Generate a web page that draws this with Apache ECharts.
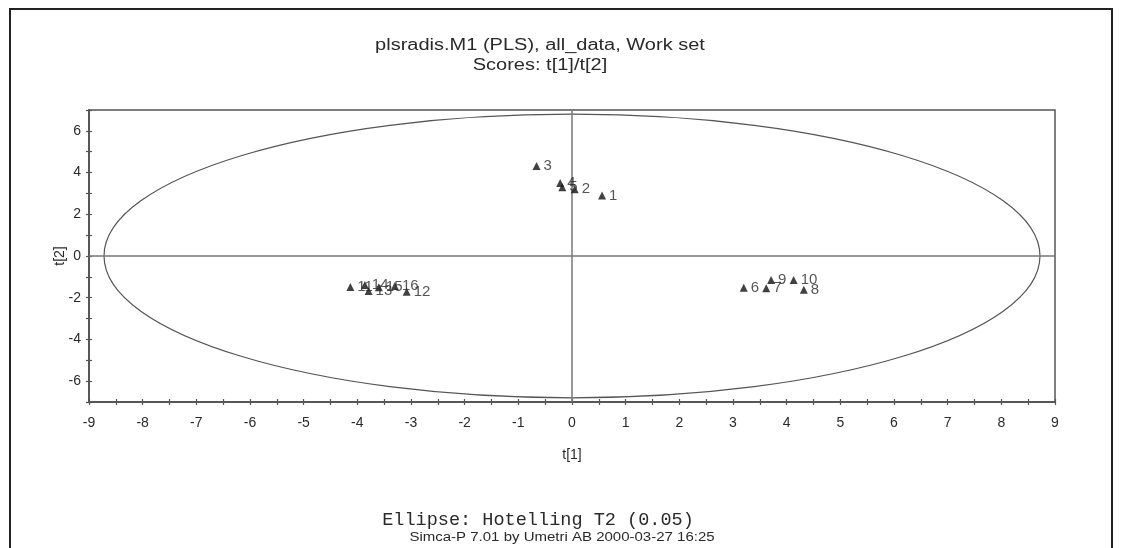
<!DOCTYPE html>
<html><head><meta charset="utf-8">
<script src="https://cdn.jsdelivr.net/npm/echarts@6/dist/echarts.min.js"></script>
<style>html,body{margin:0;padding:0;background:#fff}#c{width:1122px;height:548px}</style>
</head><body><div id="c"></div>
<script>
// ---- data ----
const pointLabels = ['1','2','3','4','5','6','7','8','9','10','11','12','13','14','15','16'];
const t1Values = [0.56, 0.05, -0.66, -0.22, -0.18, 3.20, 3.62, 4.32, 3.71, 4.13, -4.13, -3.08, -3.79, -3.86, -3.60, -3.30];
const t2Values = [2.90, 3.20, 4.31, 3.50, 3.30, -1.52, -1.55, -1.62, -1.15, -1.15, -1.49, -1.72, -1.68, -1.39, -1.50, -1.44];
const xTickLabels = ['-9','-8','-7','-6','-5','-4','-3','-2','-1','0','1','2','3','4','5','6','7','8','9'];
const yTickLabels = ['-6','-4','-2','0','2','4','6'];
const ellipseSemiT1 = 8.72;   // Hotelling T2 (0.05) semi-axis along t[1]
const ellipseSemiT2 = 6.80;   // Hotelling T2 (0.05) semi-axis along t[2]
const titleLines = ['plsradis.M1 (PLS), all_data, Work set', 'Scores: t[1]/t[2]'];
const footerLines = ['Ellipse: Hotelling T2 (0.05)', 'Simca-P 7.01 by Umetri AB 2000-03-27 16:25'];

const chart = echarts.init(document.getElementById('c'), null, {renderer: 'canvas'});
const txt = '#2a2a2a';
const axisCol = '#555';
const sans = 'Liberation Sans, Arial, sans-serif';

const pts = t1Values.map((v, i) => ({value: [v, t2Values[i]], name: pointLabels[i]}));

function baseX(extra) {
  return Object.assign({
    type: 'value', min: -9, max: 9, interval: 0.5, gridIndex: 0,
    splitLine: {show: false},
    axisLine: {show: true, onZero: false, lineStyle: {color: axisCol, width: 1.5}},
    axisTick: {show: true, length: 3, lineStyle: {color: axisCol, width: 1.2}},
  }, extra);
}
function baseY(extra) {
  return Object.assign({
    type: 'value', min: -7, max: 7, interval: 1, gridIndex: 0,
    splitLine: {show: false},
    axisLine: {show: true, onZero: false, lineStyle: {color: axisCol, width: 1.5}},
    axisTick: {show: true, length: 3, lineStyle: {color: axisCol, width: 1.2}},
  }, extra);
}

const option = {
  animation: false,
  backgroundColor: '#fff',
  grid: {left: 89, right: 67, top: 110, bottom: 146, show: true, borderColor: axisCol, borderWidth: 1.5, backgroundColor: 'transparent'},
  xAxis: [
    baseX({
      position: 'bottom',
      name: 't[1]', nameLocation: 'middle', nameGap: 46, nameMoveOverlap: false,
      nameTextStyle: {fontFamily: sans, fontSize: 14, color: txt},
      axisLabel: {
        fontFamily: sans, fontSize: 14, color: txt, margin: 14,
        formatter: v => Number.isInteger(v) ? xTickLabels[v + 9] : ''
      }
    }),
    baseX({position: 'bottom', axisLabel: {show: false}, axisTick: {show: true, inside: true, length: 3, lineStyle: {color: axisCol, width: 1.2}}})
  ],
  yAxis: [
    baseY({
      position: 'left',
      name: 't[2]', nameLocation: 'middle', nameGap: 22, nameRotate: 90, nameMoveOverlap: false,
      nameTextStyle: {fontFamily: sans, fontSize: 14, color: txt},
      axisLabel: {
        fontFamily: sans, fontSize: 14, color: txt, margin: 8,
        formatter: v => (v % 2 === 0 && yTickLabels.indexOf(String(v)) >= 0) ? String(v) : ''
      }
    }),
    baseY({position: 'left', axisLabel: {show: false}, axisTick: {show: true, inside: true, length: 3, lineStyle: {color: axisCol, width: 1.2}}})
  ],
  series: [{
    type: 'scatter',
    xAxisIndex: 0, yAxisIndex: 0,
    symbol: 'triangle', symbolSize: 8,
    itemStyle: {color: '#111'},
    label: {show: true, position: 'right', distance: 3, formatter: p => p.name, fontFamily: sans, fontSize: 15, color: txt},
    data: pts,
    z: 5,
    markLine: {
      silent: true, symbol: 'none', label: {show: false},
      lineStyle: {color: '#777', width: 1.5, type: 'solid'},
      data: [{xAxis: 0}, {yAxis: 0}]
    }
  }],
  graphic: [
    {id: 'frame', type: 'rect', shape: {x: 10, y: 9, width: 1102, height: 570}, style: {fill: 'none', stroke: '#222', lineWidth: 2}, z: 1},
    {id: 'title1', type: 'text', x: 540, y: 46, scaleX: 1.25, style: {text: titleLines[0], fontFamily: sans, fontSize: 16, fill: txt, textAlign: 'center', textVerticalAlign: 'middle'}},
    {id: 'title2', type: 'text', x: 540, y: 66, scaleX: 1.25, style: {text: titleLines[1], fontFamily: sans, fontSize: 16, fill: txt, textAlign: 'center', textVerticalAlign: 'middle'}},
    {id: 'foot1', type: 'text', x: 538, y: 520, scaleX: 1.03, style: {text: footerLines[0], fontFamily: 'Liberation Mono, Courier New, monospace', fontSize: 18, fill: txt, textAlign: 'center', textVerticalAlign: 'middle'}},
    {id: 'foot2', type: 'text', x: 562, y: 538, scaleX: 1.25, style: {text: footerLines[1], fontFamily: sans, fontSize: 12, fill: txt, textAlign: 'center', textVerticalAlign: 'middle'}}
  ]
};
chart.setOption(option);

const c0 = chart.convertToPixel({xAxisIndex: 0, yAxisIndex: 0}, [0, 0]);
const c1 = chart.convertToPixel({xAxisIndex: 0, yAxisIndex: 0}, [ellipseSemiT1, ellipseSemiT2]);
chart.setOption({
  graphic: [{
    id: 'ellipse', type: 'ellipse',
    shape: {cx: c0[0], cy: c0[1], rx: c1[0] - c0[0], ry: c0[1] - c1[1]},
    style: {fill: 'none', stroke: '#555', lineWidth: 1.2}, z: 2
  }]
});
</script>
</body></html>
